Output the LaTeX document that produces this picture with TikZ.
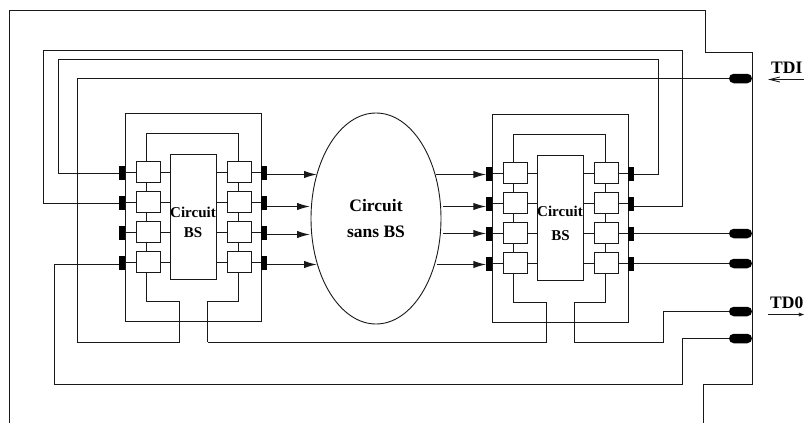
\documentclass[tikz,border=0pt]{standalone}
\usepackage{fontspec}
\setmainfont{Liberation Serif}
\usetikzlibrary{shapes.geometric,shapes.misc,arrows.meta}
\tikzset{
  wire/.style={draw=black!90,line width=1.4pt,line join=miter},
  frame/.style={draw=black!90,line width=1.4pt,inner sep=0pt,outer sep=0pt,fill=white},
  cell/.style={frame,minimum width=24pt,minimum height=21pt},
  pin/.style={fill=black,draw=none,inner sep=0pt,outer sep=0pt,minimum width=5.5pt,minimum height=14pt},
  port/.style={rounded rectangle,fill=black,draw=none,inner sep=0pt,outer sep=0pt,minimum width=23pt,minimum height=9.5pt},
  lbl/.style={font=\bfseries\fontsize{15}{16}\selectfont,inner sep=0pt},
  biglbl/.style={font=\bfseries\fontsize{17.5}{18}\selectfont,inner sep=0pt},
  sig/.style={wire,-{Latex[length=13pt,width=7.5pt]}},
}
\newcommand{\chipblock}[1]{%
\begin{scope}[name prefix=#1-,shift={(\blockdx,\blockdy)}]
  \node[frame,minimum width=136pt,minimum height=208pt] (out) at (193.5,217.5) {};
  \node[frame,minimum width=46pt,minimum height=125pt] (bs) at (193.5,217) {};
  \foreach \i/\y in {1/172,2/202,3/232,4/262}{
    \node[pin] (p\i) at (122,\y+0.5) {};
    \node[pin] (q\i) at (264,\y+0.5) {};
    \node[cell] (a\i) at (148.5,\y) {};
    \node[cell] (b\i) at (239.5,\y) {};
    \draw[wire] (p\i.east) -- (a\i.west |- p\i.east);
    \draw[wire] (a\i.east |- p\i.east) -- (bs.west |- p\i.east);
    \draw[wire] (bs.east |- p\i.east) -- (b\i.west |- p\i.east);
    \draw[wire] (b\i.east |- q\i.west) -- (q\i.west);
  }
  \coordinate (ax) at (146.5,133.5);
  \coordinate (bx) at (238.5,133.5);
  \coordinate (ad) at (146.5,301.5);
  \coordinate (bd) at (238.5,301.5);
  \draw[wire] (ax |- a1.north) -- (ax) -- (bx) -- (bx |- b1.north);
  \foreach \i/\j in {1/2,2/3,3/4}{
    \draw[wire] (ax |- a\i.south) -- (ax |- a\j.north);
    \draw[wire] (bx |- b\i.south) -- (bx |- b\j.north);
  }
  \draw[wire] (ax |- a4.south) -- (ad) -- (179.5,301.5) -- (179.5,341.5);
  \draw[wire] (bx |- b4.south) -- (bd) -- (207.5,301.5) -- (207.5,341.5);
\end{scope}}
\begin{document}
\begin{tikzpicture}[x=1pt,y=-1pt]
\useasboundingbox (0,0) rectangle (804,423);
% board outline
\draw[wire] (9.5,423) -- (9.5,10.5) -- (705.5,10.5) -- (705.5,52.5) -- (752.5,52.5) -- (752.5,384.5) -- (703.5,384.5) -- (703.5,423);
% blocks
\def\blockdx{0}\def\blockdy{0}\chipblock{L}
\def\blockdx{367}\def\blockdy{1}\chipblock{R}
% central circuit
\node[frame,line width=0.9pt,ellipse,minimum width=130pt,minimum height=211pt] (core) at (376,218.5) {};
% board ports
\node[port] (tdi) at (740.5,78.5) {};
\node[port] (o3) at (740.5,233.5) {};
\node[port] (o4) at (740.5,263.5) {};
\node[port] (tdo) at (740.5,311.5) {};
\node[port] (o6) at (740.5,338.5) {};
% arrows left block to core
\foreach \i/\y/\e in {1/174.5/317,2/206.5/310,3/234.5/310,4/264.5/317}{
  \draw[sig] (L-q\i.east |- 0,\y) -- (\e,\y);
}
% arrows core to right block
\foreach \i/\y/\s in {1/174.5/436,2/206.5/443,3/233.5/443,4/264.5/437}{
  \draw[sig] (\s,\y) -- (R-p\i.west |- 0,\y);
}
% scan wiring
\draw[wire] (L-p1.west |- 0,173.5) -- (58.5,173.5) -- (58.5,59.5) -- (658.5,59.5) -- (658.5,174.5) -- (R-q1.east |- 0,174.5);
\draw[wire] (L-p2.west |- 0,203.5) -- (43.5,203.5) -- (43.5,50.5) -- (682.5,50.5) -- (682.5,206.5) -- (R-q2.east |- 0,206.5);
\draw[wire] (tdi.west) -- (77.5,78.5) -- (77.5,342.5) -- (179.5,342.5);
\draw[wire] (207.5,342.5) -- (546.5,342.5) -- (546.5,342);
\draw[wire] (574.5,342) -- (574.5,342.5) -- (663.5,342.5) -- (663.5,311.5) -- (tdo.west);
\draw[wire] (o6.west) -- (682.5,338.5) -- (682.5,384.5) -- (54.5,384.5) -- (54.5,264.5) -- (L-p4.west |- 0,264.5);
\draw[wire] (R-q3.east |- o3) -- (o3.west);
\draw[wire] (R-q4.east |- o4) -- (o4.west);
% labels
\node[lbl] (c1) at (193,212) {Circuit};
\node[lbl] (c2) at (193,233) {BS};
\node[lbl] (c3) at (560,211) {Circuit};
\node[lbl] (c4) at (560.5,236) {BS};
\node[biglbl] (c5) at (376,206) {Circuit};
\node[biglbl] (c6) at (376,232) {sans BS};
\node[biglbl,anchor=base west] (ti) at (771,73.5) {TDI};
\node[biglbl,anchor=base west] (to) at (770,308.5) {TD0};
\draw[draw=black!90,line width=0.9pt,-{Straight Barb[length=10pt,width=5pt]}] (804,79.5) -- (768,79.5);
\draw[draw=black!90,line width=0.9pt,-{Straight Barb[length=4pt,width=3pt]}] (768,314.5) -- (804,314.5);
\end{tikzpicture}
\end{document}
